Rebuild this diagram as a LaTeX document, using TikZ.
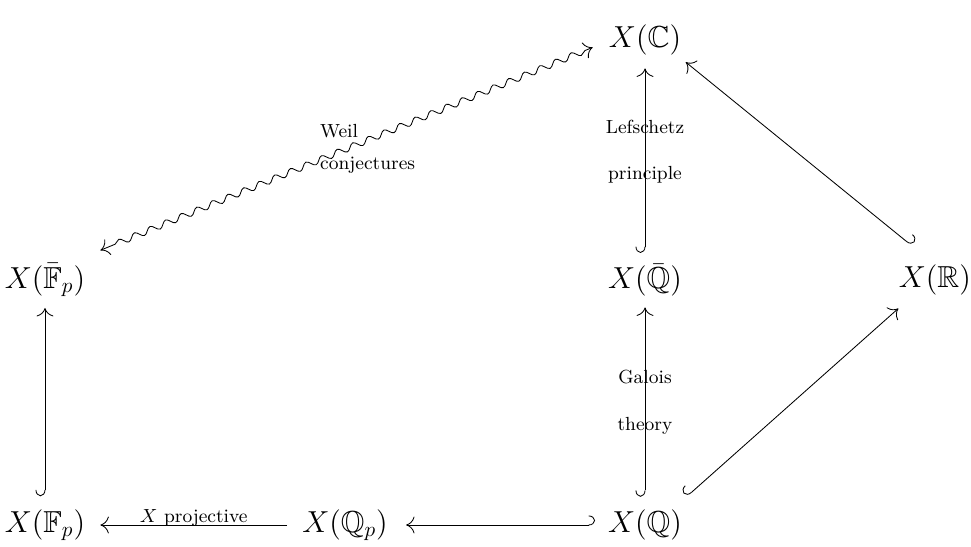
\documentclass[tikz,border=0pt]{standalone}
\usepackage{amssymb}
\usetikzlibrary{arrows.meta,decorations.pathmorphing}

\begin{document}
\begin{tikzpicture}[>={To[length=4pt,width=8pt]},
 pt/.style={font=\Large,inner sep=0pt},
 lbl/.style={font=\small,align=center},
 inc/.style={{Hooks[left,length=3pt,width=9pt]}->},
 incr/.style={{Hooks[right,length=3pt,width=9pt]}->}]
\useasboundingbox (0,0) rectangle (16.183,9.1);
% the points of X over various fields
\node[pt] (C) at (10.75,8.43) {$X(\mathbb{C})$};
\node[pt] (Fbar) at (0.75,4.43) {$X(\bar{\mathbb{F}}_p)$};
\node[pt] (Qbar) at (10.75,4.43) {$X(\bar{\mathbb{Q}})$};
\node[pt] (R) at (15.58,4.43) {$X(\mathbb{R})$};
\node[pt] (F) at (0.75,0.35) {$X(\mathbb{F}_p)$};
\node[pt] (Qp) at (5.75,0.35) {$X(\mathbb{Q}_p)$};
\node[pt] (Q) at (10.75,0.35) {$X(\mathbb{Q})$};
% maps
\draw[incr] ([yshift=5pt]Qbar.north) -- ([yshift=-6pt]C.south)
 node[lbl,pos=0.55] {Lefschetz\\[11pt]principle};
\draw[incr] ([yshift=6pt]Q.north) -- ([yshift=-5pt]Qbar.south)
 node[lbl,midway] {Galois\\[11pt]theory};
\draw[incr] ([yshift=6pt]F.north) -- ([yshift=-5pt]Fbar.south);
\draw[inc] ([xshift=-6pt]Q.west) -- ([xshift=8.5pt]Qp.east);
\draw[->] ([xshift=-7pt]Qp.west) -- ([xshift=7pt]F.east)
 node[lbl,midway,above,inner sep=0pt,yshift=-1pt] {$X$ projective};
\draw[incr] ([xshift=2pt,yshift=6pt]Q.north east) -- ([yshift=-6pt]R.south west);
\draw[inc] ([xshift=-11pt,yshift=9pt]R.north) -- ([xshift=2pt,yshift=-3pt]C.south east);
\draw[<->,decorate,decoration={snake,amplitude=1.5pt,segment length=8pt,pre length=4pt,post length=4pt}]
 ([xshift=-7.5pt,yshift=4pt]C.south west) -- ([xshift=7pt,yshift=6pt]Fbar.north east)
 node[lbl,midway,align=left,xshift=10pt] {Weil\\[4pt]conjectures};
\end{tikzpicture}
\end{document}
